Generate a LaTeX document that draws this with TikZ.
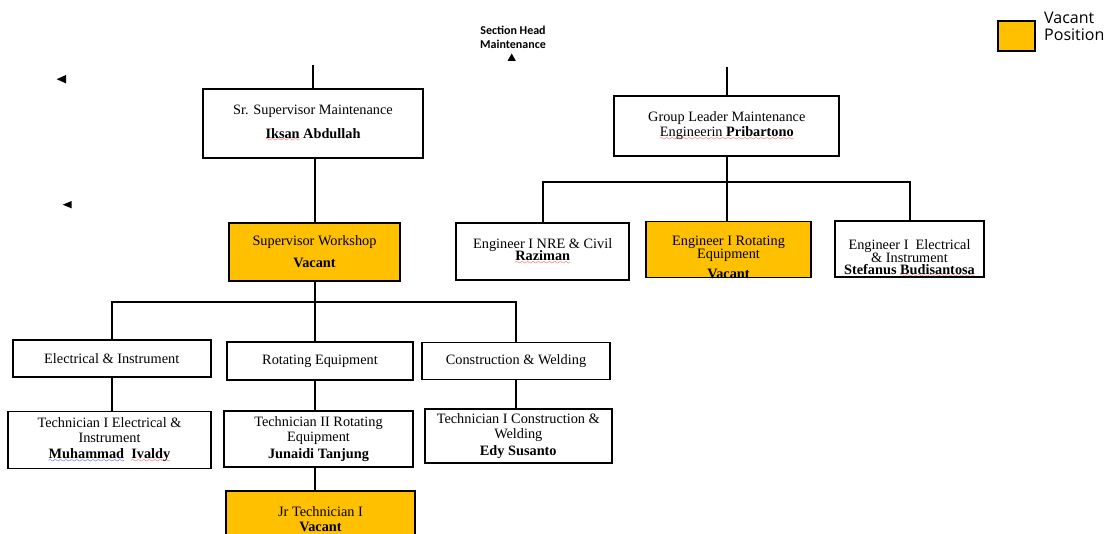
\documentclass[tikz,border=0pt]{standalone}
\usepackage{fontspec}
\setmainfont{Liberation Serif}
\newfontfamily\legendfont{Open Sans}
\newfontfamily\headfont{Carlito}
\usepackage{tikz}
\usetikzlibrary{positioning}
\definecolor{vacant}{HTML}{FFC000}
\font\sevenly=lasy7
\newcommand\spellwave[2]{\setbox0\hbox{#2}\rlap{\lower3.5pt\hbox to\wd0{\color{#1}\xleaders\hbox{\sevenly\char58}\hfil}}\box0\relax}
\tikzstyle{post}=[draw, line width=1.8pt, align=center, inner sep=1pt,
                font=\fontsize{14.3}{15}\selectfont]
\tikzstyle{vacpost}=[post, fill=vacant]
\tikzstyle{posttxt}=[align=center, inner sep=0pt, font=\fontsize{14.3}{15}\selectfont]
\tikzstyle{lnk}=[line width=2pt]

\begin{document}
\begin{tikzpicture}[x=1pt,y=-1pt]
\useasboundingbox (0,0) rectangle (1116,534);
% left branch
\node[post, minimum width=220pt, minimum height=69pt] (sr) at (313,123.5)
  {Sr. Supervisor Maintenance\\[9pt]\textbf{\spellwave{red}{Iksan} Abdullah}};
\node[vacpost, minimum width=171pt, minimum height=58pt] (sw) at (314.5,252)
  {Supervisor Workshop\\[7pt]\textbf{Vacant}};
\node[post, minimum width=198pt, minimum height=37pt] (ei) at (111.7,358.3) {Electrical \& Instrument};
\node[post, minimum width=186pt, minimum height=38pt] (re) at (320,361) {Rotating Equipment};
\node[post, minimum width=188pt, minimum height=37pt] (cw) at (516,361) {Construction \& Welding};
\node[post, minimum width=203pt, minimum height=57pt] (tei) at (109.5,440)
  {Technician I Electrical \&\\Instrument\\[1.5pt]\textbf{\spellwave{blue}{Muhammad}\ \ \spellwave{red}{Ivaldy}}};
\node[post, minimum width=189pt, minimum height=56pt] (tre) at (318.5,439)
  {Technician II Rotating\\Equipment\\[1.5pt]\textbf{Junaidi Tanjung}};
\node[post, minimum width=187pt, minimum height=54pt] (tcw) at (518.3,436)
  {Technician I Construction \&\\Welding\\[1.5pt]\textbf{Edy Susanto}};
\node[vacpost, minimum width=189pt, minimum height=56pt] (jr) at (320.5,519)
  {Jr Technician I\\\textbf{Vacant}};
% right branch
\node[post, minimum width=225pt, minimum height=60.5pt] (gl) at (726.8,126)
  {Group Leader Maintenance\\\spellwave{red}{Engineerin \textbf{Pribartono}}};
\node[post, minimum width=173pt, minimum height=57pt] (enre) at (542.7,251.7)
  {Engineer I NRE \& Civil\\[-3pt]\textbf{\spellwave{red}{Raziman}}};
\node[vacpost, minimum width=165pt, minimum height=56pt] (erot) at (728.5,249.5) {};
\node[posttxt] (erottxt) at ([yshift=-8pt]erot.center)
  {Engineer I Rotating\\[-2pt]Equipment\\[5pt]\textbf{Vacant}};
\node[post, minimum width=149pt, minimum height=56pt] (eei) at (909.5,248.7) {};
\node[posttxt] (eeitxt) at ([yshift=-10pt]eei.center)
  {Engineer I\ \ Electrical\\[-2pt]\& Instrument\\[-3pt]\textbf{Stefanus \spellwave{red}{Budisantosa}}};
% head and legend
\node[align=center, inner sep=0pt, font=\headfont\bfseries\fontsize{12}{14.3}\selectfont] (head) at (513,37)
  {Section Head\\Maintenance};
\node[draw, fill=vacant, line width=1.8pt, minimum width=37pt, minimum height=30pt] (legbox) at (1016.2,36.4) {};
\node[align=left, anchor=west, inner sep=0pt, font=\legendfont\fontsize{16}{17}\selectfont] (legtxt) at (1044,26.5)
  {Vacant\\Position};
% markers
\fill (56.7,79.2) -- (66,75) -- (66,83.4) -- cycle;
\fill (62.7,204.7) -- (71.7,201) -- (71.7,208.4) -- cycle;
\fill (511.7,53.5) -- (507.5,61) -- (515.9,61) -- cycle;
% connectors
\coordinate (srtop) at (313,65);
\coordinate (gltop) at (727,67);
\coordinate (busA) at (0,302);
\coordinate (busB) at (0,182);
\draw[lnk] (srtop) -- (srtop |- sr.north);
\draw[lnk] (sw.north |- sr.south) -- (sw.north);
\draw[lnk] (sw.south) -- (sw.south |- re.north);
\draw[lnk] (ei.north) |- (busA -| cw.north) -- (cw.north);
\draw[lnk] (ei.south) -- (ei.south |- tei.north);
\draw[lnk] (cw.south) -- (cw.south |- tcw.north);
\foreach \a/\b in {re/tre, tre/jr}
  \draw[lnk] (\a.south -| sw.south) -- (\b.north -| sw.south);
\draw[lnk] (gltop) -- (gltop |- gl.north);
\draw[lnk] (gl.south) -- (gl.south |- erot.north);
\draw[lnk] (enre.north) |- (busB -| eei.north) -- (eei.north);
\end{tikzpicture}
\end{document}
